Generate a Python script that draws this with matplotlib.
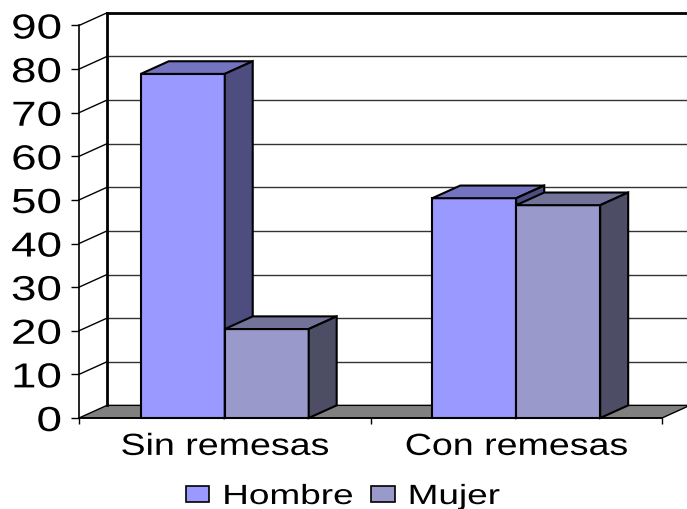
import matplotlib
matplotlib.use("Agg")
import matplotlib.pyplot as plt
import matplotlib.patheffects as pe
from matplotlib.transforms import Affine2D

plt.rcParams['font.family'] = ['Liberation Sans', 'DejaVu Sans']

categories = ["Sin remesas", "Con remesas"]
hombre = [78.9, 50.4]
mujer = [20.4, 48.8]
y_ticks = [0, 10, 20, 30, 40, 50, 60, 70, 80, 90]

# 3d look: how far the back plane sits from the front one (data units)
dx = 0.096
dy = 2.9
bar_w = 0.288


# the labels in the original are stretched sideways
class Stretch(pe.AbstractPathEffect):
    def __init__(self, sx, anchor):
        super().__init__()
        self.sx = sx
        self.anchor = anchor

    def draw_path(self, renderer, gc, tpath, affine, rgbFace=None):
        box = affine.transform_path(tpath).get_extents()
        x0 = {"left": box.x0, "right": box.x1, "center": (box.x0 + box.x1) / 2}[self.anchor]
        tr = affine + Affine2D().translate(-x0, 0).scale(self.sx, 1).translate(x0, 0)
        renderer.draw_path(gc, tpath, tr, rgbFace)


def draw_bar(x, val, front, top, side):
    ax.bar(x, val, bar_w, align="edge", color=front, edgecolor="black", linewidth=1.5, zorder=3, clip_on=False)
    x2 = x + bar_w
    ax.fill([x, x2, x2 + dx, x + dx], [val, val, val + dy, val + dy], facecolor=top,
            edgecolor="black", linewidth=1.5, zorder=3, clip_on=False)
    ax.fill([x2, x2 + dx, x2 + dx, x2], [0, dy, val + dy, val], facecolor=side,
            edgecolor="black", linewidth=1.5, zorder=3, clip_on=False)


fig = plt.figure(figsize=(6.87, 5.10), dpi=100)
ax = fig.add_axes([79 / 687, 91 / 510, 583 / 687, 392.5 / 510])
ax.set_xlim(0, 2)
ax.set_ylim(0, 90)

# floor
ax.fill([0, dx, 2 + dx, 2], [0, dy, dy, 0], facecolor="#808080", edgecolor="black",
        linewidth=1, zorder=1, clip_on=False)

# back wall and side wall
for v in y_ticks[1:-1]:
    ax.plot([dx, 2 + dx], [v + dy, v + dy], color="#333333", linewidth=1, zorder=1, clip_on=False)
for v in y_ticks[1:]:
    ax.plot([0, dx], [v, v + dy], color="black", linewidth=1, zorder=1, clip_on=False)
ax.plot([dx, dx], [dy, 90 + dy], color="black", linewidth=2, zorder=2, clip_on=False)
ax.plot([dx, 2 + dx], [90 + dy, 90 + dy], color="black", linewidth=2, zorder=2, clip_on=False)

for i in range(len(categories)):
    draw_bar(i + 0.5 - bar_w, hombre[i], "#9999FF", "#7373BF", "#4D4D80")
    draw_bar(i + 0.5, mujer[i], "#9999CC", "#737399", "#4D4D66")

ax.patch.set_visible(False)
ax.spines["top"].set_visible(False)
ax.spines["right"].set_visible(False)
ax.spines["left"].set_linewidth(1.2)
ax.spines["bottom"].set_linewidth(1.2)

ax.set_yticks(y_ticks)
ax.set_xticks([0, 1, 2])
ax.set_xticklabels([])
ax.tick_params(axis="y", length=6, width=1, pad=6.5, labelsize=25)
ax.tick_params(axis="x", length=4, width=1)
for lab in ax.get_yticklabels():
    lab.set_path_effects([Stretch(1.32, "right")])

for i, name in enumerate(categories):
    ax.annotate(name, (i + 0.5, 0), xytext=(0, -10), textcoords="offset points", ha="center", va="top",
                fontsize=22, path_effects=[Stretch(1.23, "center")], annotation_clip=False)

h1 = plt.Rectangle((0, 0), 1, 1, facecolor="#9999FF", edgecolor="black", linewidth=1.2)
h2 = plt.Rectangle((0, 0), 1, 1, facecolor="#9999CC", edgecolor="black", linewidth=1.2)
leg = fig.legend([h1, h2], ["Hombre", "Mujer"], ncol=2, frameon=False, fontsize=20,
                 loc="center left", bbox_to_anchor=(186 / 687, 12 / 510), borderaxespad=0, borderpad=0,
                 handlelength=0.83, handleheight=0.5, handletextpad=0.5, columnspacing=1.8)
for t in leg.get_texts():
    t.set_path_effects([Stretch(1.33, "left")])

fig.savefig("out.png", dpi=100)
